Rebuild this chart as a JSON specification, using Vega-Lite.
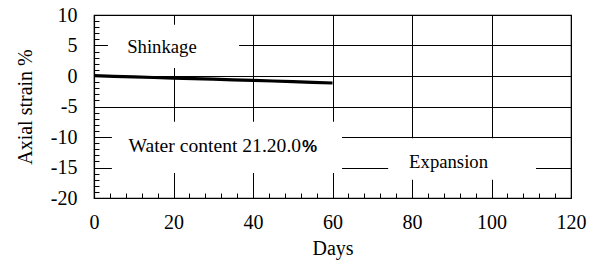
{
  "$schema": "https://vega.github.io/schema/vega-lite/v6.json",
  "width": 477,
  "height": 183,
  "autosize": {"type": "none"},
  "padding": {"left": 94, "top": 15, "right": 26, "bottom": 63},
  "background": "white",
  "config": {
    "view": {"stroke": "black", "strokeWidth": 1.2},
    "font": "Liberation Serif"
  },
  "datasets": {
    "strain": [
      {"days": 0, "strain": 0.05},
      {"days": 5, "strain": -0.05},
      {"days": 10, "strain": -0.15},
      {"days": 15, "strain": -0.25},
      {"days": 20, "strain": -0.35},
      {"days": 25, "strain": -0.42},
      {"days": 30, "strain": -0.52},
      {"days": 35, "strain": -0.62},
      {"days": 40, "strain": -0.72},
      {"days": 45, "strain": -0.82},
      {"days": 50, "strain": -0.93},
      {"days": 55, "strain": -1.05},
      {"days": 60, "strain": -1.15}
    ],
    "boxes": [
      {"d1": 3.5, "d2": 36.5, "s1": 1.3, "s2": 8.4},
      {"d1": 4.5, "d2": 62.4, "s1": -15.9, "s2": -7.5},
      {"d1": 74, "d2": 111.2, "s1": -17.0, "s2": -10.2}
    ],
    "labels": [
      {"label": "Shinkage", "d": 17.1, "s": 3.8},
      {"label": "Expansion", "d": 89.2, "s": -15.05}
    ],
    "water": [
      {"label": "Water content 21.20.0", "d": 52.1, "s": -12.45}
    ],
    "pct": [
      {"label": "%", "d": 52.3, "s": -12.45}
    ]
  },
  "resolve": {"axis": {"x": "independent", "y": "independent"}},
  "layer": [
    {
      "data": {"name": "strain"},
      "mark": {"type": "line", "color": "black", "strokeWidth": 3.2, "strokeCap": "butt"},
      "encoding": {
        "x": {
          "field": "days", "type": "quantitative",
          "scale": {"domain": [0, 120], "nice": false, "zero": false},
          "axis": {
            "orient": "bottom",
            "values": [0, 20, 40, 60, 80, 100, 120],
            "labelExpr": "'' + datum.value",
            "grid": true, "gridColor": "black", "gridOpacity": 1, "gridWidth": 1,
            "domain": true, "domainColor": "black", "domainWidth": 1.2,
            "ticks": false, "tickSize": 0,
            "labelPadding": 14, "labelFont": "Liberation Serif", "labelFontSize": 20, "labelColor": "black",
            "labelFlush": false,
            "title": "Days", "titleFont": "Liberation Serif", "titleFontSize": 20,
            "titleFontWeight": "normal", "titleColor": "black", "titlePadding": 6
          }
        },
        "y": {
          "field": "strain", "type": "quantitative",
          "scale": {"domain": [-20, 10], "nice": false, "zero": false},
          "axis": {
            "orient": "left",
            "values": [-20, -15, -10, -5, 0, 5, 10],
            "labelExpr": "'' + datum.value",
            "grid": true, "gridColor": "black", "gridOpacity": 1, "gridWidth": 1,
            "domain": true, "domainColor": "black", "domainWidth": 1.2,
            "ticks": false, "tickSize": 0,
            "labelPadding": 17, "labelFont": "Liberation Serif", "labelFontSize": 20, "labelColor": "black",
            "labelFlush": false,
            "title": "Axial strain %", "titleFont": "Liberation Serif", "titleFontSize": 20,
            "titleFontWeight": "normal", "titleColor": "black", "titlePadding": 15
          }
        }
      }
    },
    {
      "data": {"name": "boxes"},
      "mark": {"type": "rect", "fill": "white", "stroke": null},
      "encoding": {
        "x": {
          "field": "d1", "type": "quantitative",
          "axis": {
            "orient": "bottom",
            "values": [4, 8, 12, 16, 24, 28, 32, 36, 44, 48, 52, 56, 64, 68, 72, 76, 84, 88, 92, 96, 104, 108, 112, 116],
            "grid": false, "domain": false, "labels": false, "title": null,
            "ticks": true, "tickSize": -5, "tickColor": "black", "tickWidth": 1
          }
        },
        "x2": {"field": "d2"},
        "y": {
          "field": "s1", "type": "quantitative",
          "axis": {
            "orient": "left",
            "values": [-19, -18, -17, -16, -14, -13, -12, -11, -9, -8, -7, -6, -4, -3, -2, -1, 1, 2, 3, 4, 6, 7, 8, 9],
            "grid": false, "domain": false, "labels": false, "title": null,
            "ticks": true, "tickSize": -5, "tickColor": "black", "tickWidth": 1
          }
        },
        "y2": {"field": "s2"}
      }
    },
    {
      "data": {"name": "labels"},
      "mark": {"type": "text", "font": "Liberation Serif", "fontSize": 18.7, "color": "black", "align": "center", "baseline": "alphabetic"},
      "encoding": {
        "x": {"field": "d", "type": "quantitative", "axis": null},
        "y": {"field": "s", "type": "quantitative", "axis": null},
        "text": {"field": "label"}
      }
    },
    {
      "data": {"name": "water"},
      "mark": {"type": "text", "font": "Liberation Serif", "fontSize": 19.6, "color": "black", "align": "right", "baseline": "alphabetic"},
      "encoding": {
        "x": {"field": "d", "type": "quantitative", "axis": null},
        "y": {"field": "s", "type": "quantitative", "axis": null},
        "text": {"field": "label"}
      }
    },
    {
      "data": {"name": "pct"},
      "mark": {"type": "text", "font": "Liberation Sans", "fontWeight": "bold", "fontSize": 17, "color": "black", "align": "left", "baseline": "alphabetic"},
      "encoding": {
        "x": {"field": "d", "type": "quantitative", "axis": null},
        "y": {"field": "s", "type": "quantitative", "axis": null},
        "text": {"field": "label"}
      }
    }
  ]
}
